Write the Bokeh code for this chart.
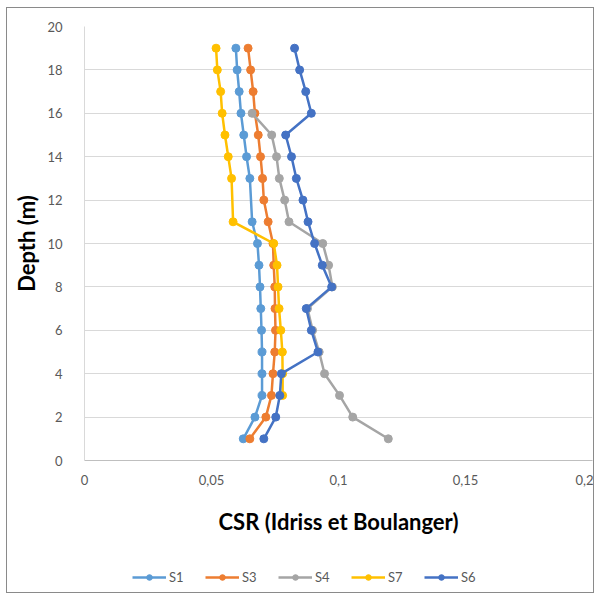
from bokeh.plotting import figure
from bokeh.layouts import column
from bokeh.models import Range1d, FixedTicker, CustomJSTickFormatter, Legend, LegendItem
from bokeh.embed import file_html
from bokeh.resources import INLINE

# ---- data ----
depth_s1 = [19, 18, 17, 16, 15, 14, 13, 11, 10, 9, 8, 7, 6, 5, 4, 3, 2, 1]
csr_s1 = [0.0596, 0.0601, 0.0609, 0.0616, 0.0627, 0.0638, 0.0651, 0.0660, 0.0681, 0.0687,
          0.0691, 0.0694, 0.0697, 0.0699, 0.0699, 0.0699, 0.0671, 0.0625]

depth_s3 = [19, 18, 17, 16, 15, 14, 13, 12, 11, 10, 9, 8, 7, 6, 5, 4, 3, 2, 1]
csr_s3 = [0.0644, 0.0654, 0.0664, 0.0671, 0.0684, 0.0693, 0.0701, 0.0706, 0.0723, 0.0742,
          0.0745, 0.0749, 0.0750, 0.0752, 0.0749, 0.0742, 0.0736, 0.0714, 0.0651]

depth_s4 = [16, 15, 14, 13, 12, 11, 10, 9, 8, 7, 6, 5, 4, 3, 2, 1]
csr_s4 = [0.0660, 0.0737, 0.0756, 0.0767, 0.0788, 0.0805, 0.0938, 0.0961, 0.0976, 0.0878,
          0.0898, 0.0924, 0.0945, 0.1004, 0.1056, 0.1196]

depth_s7 = [19, 18, 17, 16, 15, 14, 13, 11, 10, 9, 8, 7, 6, 5, 4, 3]
csr_s7 = [0.0518, 0.0523, 0.0536, 0.0542, 0.0553, 0.0566, 0.0579, 0.0585, 0.0745, 0.0758,
          0.0762, 0.0766, 0.0773, 0.0779, 0.0780, 0.0780]

depth_s6 = [19, 18, 17, 16, 15, 14, 13, 12, 11, 10, 9, 8, 7, 6, 5, 4, 3, 2, 1]
csr_s6 = [0.0827, 0.0847, 0.0871, 0.0893, 0.0792, 0.0815, 0.0834, 0.0860, 0.0880, 0.0906,
          0.0936, 0.0973, 0.0873, 0.0893, 0.0919, 0.0775, 0.0769, 0.0753, 0.0706]

series = [
    ("S1", csr_s1, depth_s1, "#5B9BD5"),
    ("S3", csr_s3, depth_s3, "#ED7D31"),
    ("S4", csr_s4, depth_s4, "#A5A5A5"),
    ("S7", csr_s7, depth_s7, "#FFC000"),
    ("S6", csr_s6, depth_s6, "#4472C4"),
]
x_ticks = [0, 0.05, 0.1, 0.15, 0.2]
y_ticks = [0, 2, 4, 6, 8, 10, 12, 14, 16, 18, 20]

FONT = "Lato"
W = 586

p = figure(width=W, height=546, output_backend="svg", toolbar_location=None,
           x_range=Range1d(0, 0.2), y_range=Range1d(0, 20),
           min_border_left=77, min_border_right=1, min_border_top=18, min_border_bottom=94)
p.outline_line_color = None
p.background_fill_color = "white"
p.border_fill_color = "white"

for name, xs, ys, col in series:
    p.line(xs, ys, line_color=col, line_width=2.5)
    p.scatter(xs, ys, marker="circle", size=8, fill_color=col, line_color=col)

# axes
xa = p.xaxis[0]
xa.ticker = FixedTicker(ticks=x_ticks)
xa.formatter = CustomJSTickFormatter(code="return String(Math.round(tick*100)/100).replace('.', ',');")
xa.axis_label = "CSR (Idriss et Boulanger)"
xa.axis_label_text_font = FONT
xa.axis_label_text_font_style = "bold"
xa.axis_label_text_font_size = "22px"
xa.axis_label_text_color = "black"
xa.axis_label_standoff = 20
xa.major_label_text_font = FONT
xa.major_label_text_font_size = "13px"
xa.major_label_text_color = "#595959"
xa.major_label_standoff = 8
xa.axis_line_color = "#BFBFBF"
xa.major_tick_line_color = None
xa.minor_tick_line_color = None

ya = p.yaxis[0]
ya.ticker = FixedTicker(ticks=y_ticks)
ya.axis_label = "Depth (m)"
ya.axis_label_text_font = FONT
ya.axis_label_text_font_style = "bold"
ya.axis_label_text_font_size = "22px"
ya.axis_label_text_color = "black"
ya.axis_label_standoff = 4
ya.major_label_text_font = FONT
ya.major_label_text_font_size = "13px"
ya.major_label_text_color = "#595959"
ya.major_label_standoff = 16
ya.axis_line_color = "#D9D9D9"
ya.major_tick_line_color = None
ya.minor_tick_line_color = None

p.xgrid.grid_line_color = None
p.ygrid.grid_line_color = "#D9D9D9"
p.ygrid.ticker = FixedTicker(ticks=y_ticks)

# legend strip below the chart (series drawn outside its visible range, only the legend shows)
lg = figure(width=W, height=38, output_backend="svg", toolbar_location=None,
            x_range=Range1d(10, 11), y_range=Range1d(100, 101),
            min_border=0, outline_line_color=None)
lg.axis.visible = False
lg.grid.visible = False
items = []
for name, xs, ys, col in series:
    r1 = lg.line(xs, ys, line_color=col, line_width=2.5)
    r2 = lg.scatter(xs, ys, marker="circle", size=7, fill_color=col, line_color=col)
    items.append(LegendItem(label=name, renderers=[r1, r2]))
legend = Legend(items=items, orientation="horizontal", location=(48, 7),
                label_text_font=FONT, label_text_font_size="13px", label_text_color="#595959",
                border_line_color=None, background_fill_alpha=0,
                glyph_width=34, glyph_height=14, spacing=16, padding=0, margin=0,
                label_standoff=3)
lg.add_layout(legend, "center")

layout = column(p, lg, spacing=0,
                styles={"border": "1px solid #8a8a8a", "margin-top": "7px", "margin-left": "6px"})

open("out.html", "w").write(file_html(layout, INLINE))
